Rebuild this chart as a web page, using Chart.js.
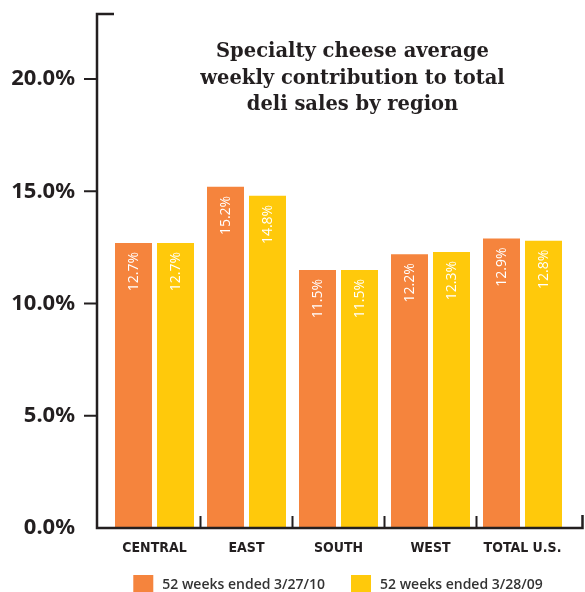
<!DOCTYPE html>
<html>
<head>
<meta charset="utf-8">
<script src="https://cdn.jsdelivr.net/npm/chart.js@4"></script>
<style>
  html, body { margin: 0; padding: 0; background: #fff; }
</style>
</head>
<body>
<canvas id="deliChart" width="585" height="592"></canvas>
<script>
// Chart data
const regions = ["CENTRAL", "EAST", "SOUTH", "WEST", "TOTAL U.S."];
const weeks2010 = [12.7, 15.2, 11.5, 12.2, 12.9];
const weeks2009 = [12.7, 14.8, 11.5, 12.3, 12.8];
const seriesNames = ["52 weeks ended 3/27/10", "52 weeks ended 3/28/09"];
const yTicks = [0, 5, 10, 15, 20];
const titleLines = ["Specialty cheese average", "weekly contribution to total", "deli sales by region"];

const ink = "#231f20";
const orange = "#f5843d";
const yellow = "#ffc90b";

Chart.defaults.font.family = "'Open Sans', 'Noto Sans', sans-serif";

// Axis frame: left spine with a cap at the top, baseline, small tick marks
const framePlugin = {
  id: "frame",
  afterDatasetsDraw(chart) {
    const { ctx, chartArea: a, scales: { x, y } } = chart;
    const left = a.left - 11.5;
    ctx.save();
    ctx.strokeStyle = ink;
    ctx.lineWidth = 2.5;
    ctx.beginPath();
    ctx.moveTo(left + 17, a.top);
    ctx.lineTo(left, a.top);
    ctx.lineTo(left, a.bottom);
    ctx.lineTo(a.right + 14, a.bottom);
    ctx.lineTo(a.right + 14, a.bottom - 13);
    ctx.stroke();

    ctx.lineWidth = 2;
    ctx.beginPath();
    yTicks.slice(1).forEach(v => {
      const py = y.getPixelForValue(v);
      ctx.moveTo(left - 13, py);
      ctx.lineTo(left, py);
    });
    for (let i = 0; i < regions.length - 1; i++) {
      const px = (x.getPixelForValue(i) + x.getPixelForValue(i + 1)) / 2;
      ctx.moveTo(px, a.bottom);
      ctx.lineTo(px, a.bottom - 12);
    }
    ctx.stroke();
    ctx.restore();
  }
};

// White rotated value labels inside the top of each bar
const barLabels = {
  id: "barLabels",
  afterDatasetsDraw(chart) {
    const ctx = chart.ctx;
    ctx.save();
    ctx.fillStyle = "#fff";
    ctx.font = "14px 'Open Sans'";
    ctx.textAlign = "right";
    ctx.textBaseline = "middle";
    chart.data.datasets.forEach((ds, di) => {
      chart.getDatasetMeta(di).data.forEach((bar, i) => {
        ctx.save();
        ctx.translate(bar.x + 1, bar.y + 9);
        ctx.rotate(-Math.PI / 2);
        ctx.fillText(ds.data[i].toFixed(1) + "%", 0, 0);
        ctx.restore();
      });
    });
    ctx.restore();
  }
};

// Title sits inside the plot area
const titlePlugin = {
  id: "innerTitle",
  afterDraw(chart) {
    const { ctx, chartArea: a } = chart;
    ctx.save();
    ctx.fillStyle = ink;
    ctx.font = "bold 19.5px 'DejaVu Serif'";
    ctx.textAlign = "center";
    ctx.textBaseline = "alphabetic";
    titleLines.forEach((line, i) => {
      ctx.fillText(line, a.left + 244, a.top + 43 + i * 26.5);
    });
    ctx.restore();
  }
};

// Legend row under the category labels
const legendPlugin = {
  id: "bottomLegend",
  afterDraw(chart) {
    const ctx = chart.ctx;
    ctx.save();
    ctx.font = "600 14px 'Open Sans'";
    ctx.textBaseline = "alphabetic";
    ctx.textAlign = "left";
    const items = chart.data.datasets.map(ds => ({ text: ds.label, color: ds.backgroundColor, w: ctx.measureText(ds.label).width }));
    const total = items.reduce((s, it) => s + 20 + 9 + it.w, 0) + 26 * (items.length - 1);
    let cx = 338 - total / 2;
    items.forEach(it => {
      ctx.fillStyle = it.color;
      ctx.fillRect(cx, 575, 20, 17);
      ctx.fillStyle = "#333";
      ctx.fillText(it.text, cx + 29, 589);
      cx += 20 + 9 + it.w + 26;
    });
    ctx.restore();
  }
};

new Chart(document.getElementById("deliChart"), {
  type: "bar",
  data: {
    labels: regions,
    datasets: [
      { label: seriesNames[0], data: weeks2010, backgroundColor: orange },
      { label: seriesNames[1], data: weeks2009, backgroundColor: yellow }
    ]
  },
  options: {
    responsive: false,
    animation: false,
    layout: { padding: { top: 14, right: 16.5, bottom: 34, left: 0 } },
    datasets: { bar: { categoryPercentage: 0.913, barPercentage: 0.881 } },
    plugins: {
      legend: { display: false },
      tooltip: { enabled: false },
      title: { display: false }
    },
    scales: {
      x: {
        grid: { display: false, drawTicks: false },
        border: { display: false },
        ticks: {
          color: ink,
          padding: 12,
          font: { family: "'Liberation Sans Narrow', 'DejaVu Sans Condensed', 'Roboto'", weight: "bold", size: 14 }
        },
        afterFit: s => { s.height = 30; }
      },
      y: {
        min: 0,
        max: 22.9,
        grid: { display: false, drawTicks: false },
        border: { display: false },
        afterBuildTicks: s => { s.ticks = yTicks.map(v => ({ value: v })); },
        afterFit: s => { s.width = 108.5; s.paddingTop = 0; s.paddingBottom = 0; },
        ticks: {
          color: ink,
          padding: 33.5,
          font: { family: "'Noto Sans'", weight: "bold", size: 22 },
          callback: v => v.toFixed(1) + "%"
        }
      }
    }
  },
  plugins: [framePlugin, barLabels, titlePlugin, legendPlugin]
});
</script>
</body>
</html>
